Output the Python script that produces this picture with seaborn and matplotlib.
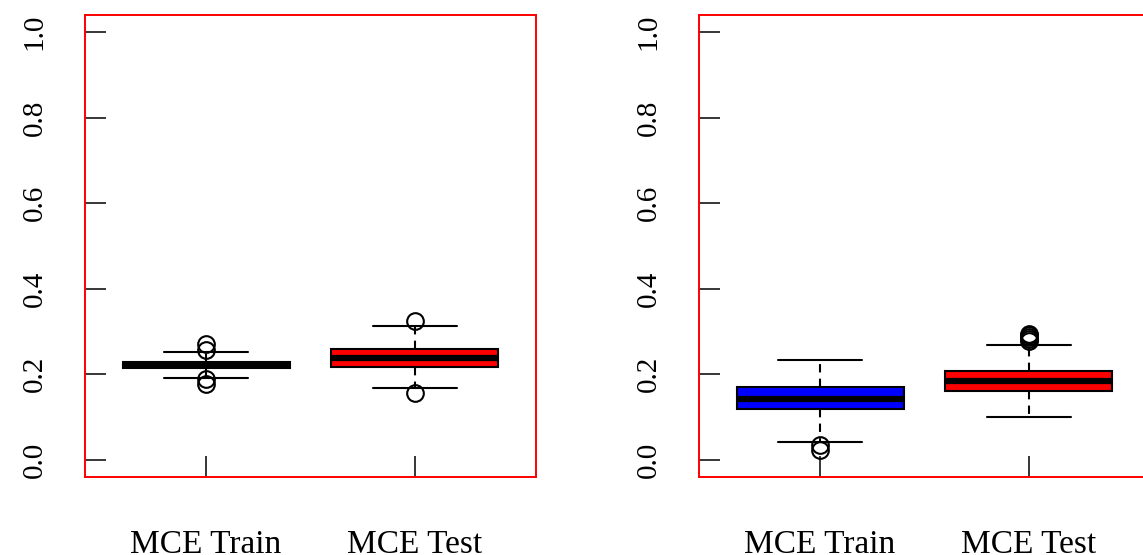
import numpy as np
import pandas as pd
import matplotlib
matplotlib.use("Agg")
import matplotlib.pyplot as plt
import seaborn as sns

# ---- data ----
categories = ["MCE Train", "MCE Test"]

# left panel: five-number summaries and outliers
left_whislo = [0.191, 0.1675]
left_q1 = [0.214, 0.218]
left_med = [0.221, 0.2375]
left_q3 = [0.230, 0.2586]
left_whishi = [0.2525, 0.314]
left_outliers = [[0.178, 0.188, 0.257, 0.270], [0.156, 0.325]]
left_colors = ["black", "red"]

# right panel
right_whislo = [0.041, 0.101]
right_q1 = [0.118, 0.162]
right_med = [0.1425, 0.1846]
right_q3 = [0.171, 0.208]
right_whishi = [0.233, 0.269]
right_outliers = [[0.022, 0.035], [0.279, 0.283, 0.287, 0.291, 0.295]]
right_colors = ["blue", "red"]

yticks = [0.0, 0.2, 0.4, 0.6, 0.8, 1.0]


def pseudo_sample(lo, q1, med, q3, hi, outs):
    """Sample whose box statistics equal the given summary."""
    low = sorted([o for o in outs if o < q1])
    high = sorted([o for o in outs if o > q3])
    K = max(len(low), len(high)) + 1
    low_part = low + [lo] * (K - len(low))
    high_part = [hi] * (K - len(high)) + high
    m = 10
    return low_part + [q1] * m + [med] + [q3] * m + high_part


def build_frame(whislo, q1, med, q3, whishi, outs):
    rows = []
    for i, cat in enumerate(categories):
        for v in pseudo_sample(whislo[i], q1[i], med[i], q3[i], whishi[i], outs[i]):
            rows.append((cat, v))
    return pd.DataFrame(rows, columns=["set", "value"])


sns.set_style("white")
plt.rcParams["font.family"] = ["Liberation Serif", "DejaVu Serif"]
plt.rcParams["text.color"] = "black"
plt.rcParams["xtick.color"] = "black"
plt.rcParams["ytick.color"] = "black"
plt.rcParams["xtick.labelcolor"] = "black"
plt.rcParams["ytick.labelcolor"] = "black"

W, H = 1143, 555
fig = plt.figure(figsize=(W / 100, H / 100), dpi=100)

panels = [
    (85, build_frame(left_whislo, left_q1, left_med, left_q3, left_whishi, left_outliers), left_colors),
    (699, build_frame(right_whislo, right_q1, right_med, right_q3, right_whishi, right_outliers), right_colors),
]

LW = 1.5
for x0, df, cols in panels:
    ax = fig.add_axes([x0 / W, (H - 477) / H, 451 / W, 462 / H])
    sns.boxplot(
        data=df, x="set", y="value", hue="set", palette=cols, legend=False,
        order=categories, width=0.8, whis=1.5, ax=ax, saturation=1,
        linecolor="black", linewidth=LW,
        boxprops=dict(edgecolor="black", linewidth=LW),
        medianprops=dict(color="black", linewidth=4.5, solid_capstyle="butt"),
        whiskerprops=dict(color="black", linewidth=LW, linestyle=(0, (4, 3))),
        capprops=dict(color="black", linewidth=LW),
        capwidths=0.4,
        flierprops=dict(marker="o", markersize=12, markerfacecolor="none",
                        markeredgecolor="black", markeredgewidth=LW),
    )
    ax.set_xlim(0.42 - 1, 2.58 - 1)
    ax.set_ylim(-0.04, 1.04)
    ax.set_yticks(yticks)
    ax.set_yticklabels([f"{t:.1f}" for t in yticks], rotation=90, va="center", fontsize=21)
    ax.set_xticks([0, 1])
    ax.set_xticklabels(categories, fontsize=24)
    ax.tick_params(axis="y", left=True, direction="in", length=15, width=1.1,
                   color="black", labelcolor="black", pad=27)
    ax.tick_params(axis="x", bottom=True, direction="in", length=15, width=1.1,
                   color="black", labelcolor="black", pad=38)
    ax.set_xlabel("")
    ax.set_ylabel("")
    for s in ax.spines.values():
        s.set_visible(True)
        s.set_color("red")
        s.set_linewidth(1.4)
    ax.grid(False)

fig.savefig("out.png", dpi=100, facecolor="white")
